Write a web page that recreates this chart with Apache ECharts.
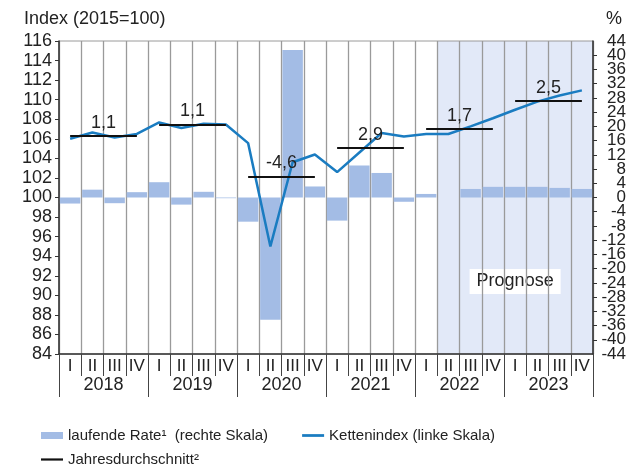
<!DOCTYPE html>
<html>
<head>
<meta charset="utf-8">
<script src="https://cdn.jsdelivr.net/npm/echarts@6/dist/echarts.min.js"></script>
<style>
html, body { margin: 0; padding: 0; background: #fff; }
#chart { width: 642px; height: 465px; }
</style>
</head>
<body>
<div id="chart"></div>
<script>
// Quartale 2018 - 2023
var quarters = ['I', 'II', 'III', 'IV', 'I', 'II', 'III', 'IV', 'I', 'II', 'III', 'IV',
  'I', 'II', 'III', 'IV', 'I', 'II', 'III', 'IV', 'I', 'II', 'III', 'IV'];
var years = ['2018', '2019', '2020', '2021', '2022', '2023'];

// laufende Rate in % (rechte Skala)
var rateValues = [-1.7, 2.2, -1.6, 1.5, 4.3, -2.0, 1.6, -0.2, -6.8, -34.4, 41.5, 3.1,
  -6.5, 9.0, 6.9, -1.2, 1.0, 0, 2.4, 3.0, 3.0, 3.0, 2.7, 2.4];

// Kettenindex 2015=100 (linke Skala)
var indexValues = [106.0, 106.65, 106.14, 106.5, 107.67, 107.1, 107.54, 107.47, 105.56, 95.0, 103.6, 104.4,
  102.6, 104.6, 106.6, 106.24, 106.49, 106.49, 107.27, 108.1, 108.97, 109.8, 110.43, 110.95];

// Jahresdurchschnitt: Niveau und Rate
var avgLevels = [106.3, 107.47, 102.15, 105.1, 107.0, 109.9];
var avgLabels = ['1,1', '1,1', '-4,6', '2,9', '1,7', '2,5'];

// Prognose ab 2022 II
var forecastStart = 17;

var leftMin = 84, leftMax = 116, leftStep = 2;
var rightMin = -44, rightMax = 44, rightStep = 4;

var fontFam = '"Liberation Sans", Arial, sans-serif';
var txt = '#222';

var avgLines = avgLevels.map(function (v, i) {
  return [
    { name: avgLabels[i], coord: [i * 4 + 0.5, v] },
    { coord: [i * 4 + 3.5, v] }
  ];
});

var rightLabel = { fontSize: 17, color: txt, align: 'right', margin: 33, hideOverlap: false };

var myChart = echarts.init(document.getElementById('chart'));
var option = {
  animation: false,
  textStyle: { fontFamily: fontFam, color: txt },
  title: [
    { text: 'Index (2015=100)', left: 19, top: 5, textStyle: { fontSize: 18, fontWeight: 'normal', color: txt, fontFamily: fontFam } },
    { text: '%', right: 15, top: 5, textStyle: { fontSize: 18, fontWeight: 'normal', color: txt, fontFamily: fontFam } }
  ],
  legend: [
    {
      left: 36, top: 423, itemWidth: 22, itemHeight: 7, itemGap: 34,
      textStyle: { fontSize: 15, color: txt },
      data: [
        { name: 'laufende Rate¹  (rechte Skala)', icon: 'rect' },
        { name: 'Kettenindex (linke Skala)', icon: 'path://M0 0H24V3H0Z' }
      ]
    },
    {
      left: 36, top: 447, itemWidth: 22, itemHeight: 7,
      textStyle: { fontSize: 15, color: txt },
      data: [{ name: 'Jahresdurchschnitt²', icon: 'path://M0 0H24V2.4H0Z' }]
    }
  ],
  grid: {
    left: 59, right: 49, top: 41, bottom: 111,
    show: true, borderColor: '#9a9a9a', borderWidth: 1,
    outerBoundsMode: 'none'
  },
  xAxis: [
    {
      type: 'category', data: quarters, position: 'bottom', boundaryGap: true,
      axisLine: { show: true, onZero: false, lineStyle: { color: '#333', width: 1.5 } },
      axisTick: { show: true, interval: 0, length: 22, lineStyle: { color: '#444', width: 1 } },
      axisLabel: { interval: 0, margin: 4, fontSize: 17, color: txt },
      splitLine: { show: true, interval: 0, lineStyle: { color: '#9a9a9a', width: 1.3 } }
    },
    {
      type: 'category', data: years, position: 'bottom', boundaryGap: true,
      axisLine: { show: false, onZero: false },
      axisTick: { show: true, interval: 0, length: 43, lineStyle: { color: '#444', width: 1 } },
      axisLabel: { interval: 0, margin: 22, fontSize: 18, color: txt },
      splitLine: { show: false }
    },
    { type: 'value', min: 0, max: 24, show: false, position: 'top', axisLine: { onZero: false } }
  ],
  yAxis: [
    {
      type: 'value', position: 'left', min: leftMin, max: leftMax, interval: leftStep,
      axisLine: { show: true, onZero: false, lineStyle: { color: '#333', width: 1.5 } },
      axisTick: { show: true, length: 4, lineStyle: { color: '#333' } },
      axisLabel: { fontSize: 18, color: txt, margin: 7, showMinLabel: true, showMaxLabel: true },
      splitLine: { show: false }
    },
    {
      // rechte Skala: -40 bis 40
      type: 'value', position: 'right', min: rightMin, max: rightMax, interval: rightStep,
      axisLine: { show: true, onZero: false, lineStyle: { color: '#333', width: 1.5 } },
      axisTick: { show: true, length: 4, lineStyle: { color: '#333' } },
      axisLabel: Object.assign({ showMinLabel: false, showMaxLabel: false }, rightLabel),
      splitLine: { show: false }
    },
    {
      // rechte Skala: nur -44 und 44
      type: 'value', position: 'right', min: rightMin, max: rightMax, interval: rightMax - rightMin,
      axisLine: { show: false, onZero: false }, axisTick: { show: false },
      axisLabel: Object.assign({ showMinLabel: true, showMaxLabel: true }, rightLabel),
      splitLine: { show: false }
    }
  ],
  series: [
    {
      name: 'Prognose', type: 'line', xAxisIndex: 2, yAxisIndex: 0, data: [], symbol: 'none',
      silent: true,
      markArea: {
        z: -1, silent: true,
        itemStyle: { color: '#e2e9f8' },
        label: {
          show: true, position: 'inside', offset: [0, 84], fontSize: 18, color: txt,
          backgroundColor: '#fff', padding: [4, 7, 3, 7]
        },
        data: [[{ name: 'Prognose', xAxis: forecastStart }, { xAxis: quarters.length }]]
      }
    },
    {
      name: 'laufende Rate¹  (rechte Skala)', type: 'bar', xAxisIndex: 0, yAxisIndex: 1,
      data: rateValues, barCategoryGap: '8%',
      itemStyle: { color: '#a3bce5' }
    },
    {
      name: 'Jahresdurchschnitt²', type: 'line', xAxisIndex: 2, yAxisIndex: 0, data: [], symbol: 'none',
      itemStyle: { color: '#111' }, lineStyle: { color: '#111', width: 2 },
      markLine: {
        silent: true, symbol: ['none', 'none'], z: 6,
        lineStyle: { color: '#111', width: 2, type: 'solid' },
        label: { show: true, position: 'middle', formatter: '{b}', fontSize: 18, color: txt, distance: 4 },
        data: avgLines
      }
    },
    {
      name: 'Kettenindex (linke Skala)', type: 'line', xAxisIndex: 0, yAxisIndex: 0,
      data: indexValues, symbol: 'none', z: 5,
      itemStyle: { color: '#1a7cc1' },
      lineStyle: { color: '#1a7cc1', width: 2.5 }
    }
  ]
};
myChart.setOption(option);
</script>
</body>
</html>
